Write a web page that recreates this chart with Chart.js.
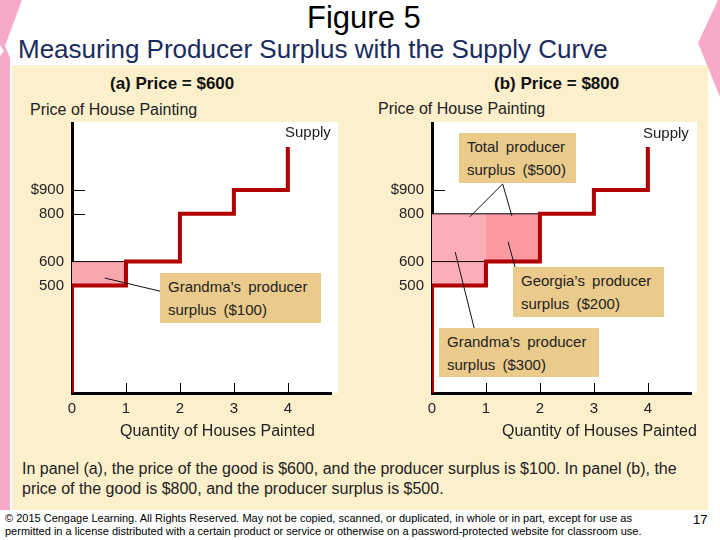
<!DOCTYPE html>
<html><head><meta charset="utf-8">
<script src="https://cdn.jsdelivr.net/npm/chart.js@4.4.1/dist/chart.umd.min.js"></script>
<style>
html,body{margin:0;padding:0;background:#fff;}
body{width:720px;height:540px;position:relative;overflow:hidden;font-family:"Liberation Sans",Arial,sans-serif;}
.t{position:absolute;white-space:nowrap;color:#222;}
.box{position:absolute;background:#EBCB8C;color:#222;font-size:15px;line-height:23px;padding:2px 0 0 8px;box-sizing:border-box;word-spacing:3px;white-space:nowrap;}
canvas{position:absolute;}
</style></head><body>
<div style="position:absolute;left:0;top:0;width:22px;height:510px;background:#F9A9C8;clip-path:polygon(0 0,22px 0,5px 46px,10px 58px,10px 510px,0 510px,0 56px,4px 51px,0 45px)"></div>
<div style="position:absolute;left:698px;top:0;width:22px;height:97px;background:#F9A9C8;clip-path:polygon(20px 0,22px 0,22px 97px,0 43px)"></div>
<div style="position:absolute;left:12px;top:65px;width:696px;height:445px;background:#FCEFCB"></div>

<div class="t" style="left:307px;top:0;font-size:31px;line-height:36px;color:#000">Figure 5</div>
<div class="t" style="left:18px;top:34px;font-size:26px;line-height:30px;color:#1A2B5C">Measuring Producer Surplus with the Supply Curve</div>

<div class="t" style="left:110px;top:74px;font-size:17px;line-height:20px;font-weight:bold;color:#111">(a) Price = $600</div>
<div class="t" style="left:494px;top:74px;font-size:17px;line-height:20px;font-weight:bold;color:#111">(b) Price = $800</div>
<div class="t" style="left:30px;top:100px;font-size:16px;line-height:20px">Price of House Painting</div>
<div class="t" style="left:378px;top:99px;font-size:16px;line-height:20px">Price of House Painting</div>

<canvas id="ca" width="340" height="330" style="left:12px;top:103px"></canvas>
<canvas id="cb" width="340" height="330" style="left:372px;top:103px"></canvas>

<div class="t" style="left:285px;top:122px;font-size:15px;line-height:20px">Supply</div>
<div class="t" style="left:643px;top:123px;font-size:15px;line-height:20px">Supply</div>

<div class="box" style="left:160px;top:273px;width:161px;height:50px">Grandma’s producer<br>surplus ($100)</div>
<div class="box" style="left:459px;top:133px;width:117px;height:50px">Total producer<br>surplus ($500)</div>
<div class="box" style="left:513px;top:267px;width:151px;height:50px">Georgia’s producer<br>surplus ($200)</div>
<div class="box" style="left:439px;top:328px;width:160px;height:49px">Grandma’s producer<br>surplus ($300)</div>

<div class="t" style="left:120px;top:421px;font-size:16px;line-height:20px">Quantity of Houses Painted</div>
<div class="t" style="left:502px;top:421px;font-size:16px;line-height:20px">Quantity of Houses Painted</div>

<div class="t" style="left:22px;top:459px;font-size:16px;line-height:20px">In panel (a), the price of the good is $600, and the producer surplus is $100. In panel (b), the</div>
<div class="t" style="left:22px;top:479px;font-size:16px;line-height:20px">price of the good is $800, and the producer surplus is $500.</div>

<div class="t" style="left:5px;top:512px;font-size:11px;line-height:13px;color:#000">© 2015 Cengage Learning. All Rights Reserved. May not be copied, scanned, or duplicated, in whole or in part, except for use as</div>
<div class="t" style="left:5px;top:525px;font-size:11px;line-height:13px;color:#000">permitted in a license distributed with a certain product or service or otherwise on a password-protected website for classroom use.</div>
<div class="t" style="left:693px;top:512px;font-size:13px;line-height:16px;color:#000">17</div>

<script>
// ---- data ----
const quantityTicks = [0, 1, 2, 3, 4];
const priceTicks = [500, 600, 800, 900];
const priceTickLabels = ['500', '600', '800', '$900'];
// cost of each seller, in order of the quantity supplied (Grandma, Georgia, Frida, Mary)
const sellerCost = [500, 600, 800, 900];
const supplyFloor = 50;   // curve starts on the horizontal axis
const supplyTop = 1080;   // top end of the last vertical segment
const priceA = 600;
const priceB = 800;
const grandmaQty = [0, 1];
const georgiaQty = [1, 2];

const font = {family: '"Liberation Sans", Arial, sans-serif', size: 15};

function supplyPoints() {
  const p = [{x: 0, y: supplyFloor}];
  sellerCost.forEach((c, i) => { p.push({x: i, y: c}); p.push({x: i + 1, y: c}); });
  p.push({x: sellerCost.length, y: supplyTop});
  return p;
}

const decor = {
  id: 'decor',
  beforeDraw(chart, args, opts) {
    const {ctx, chartArea: a} = chart;
    ctx.save();
    ctx.fillStyle = '#fff';
    ctx.fillRect(a.left, a.top - 1, a.right - a.left + opts.whiteExtra, a.bottom - a.top + 1);
    ctx.restore();
  },
  beforeDatasetsDraw(chart) {
    const {ctx, scales: {x, y}} = chart;
    ctx.save();
    ctx.strokeStyle = '#000';
    ctx.lineWidth = 1;
    y.ticks.forEach(t => {
      const py = Math.round(y.getPixelForValue(t.value)) + 0.5;
      ctx.beginPath(); ctx.moveTo(x.left, py); ctx.lineTo(x.left + 13, py); ctx.stroke();
    });
    x.ticks.forEach(t => {
      if (t.value === 0) return;
      const px = Math.round(x.getPixelForValue(t.value)) + 0.5;
      ctx.beginPath(); ctx.moveTo(px, y.bottom); ctx.lineTo(px, y.bottom - 10); ctx.stroke();
    });
    ctx.restore();
  },
  afterDatasetsDraw(chart, args, opts) {
    const {ctx, scales: {x, y}} = chart;
    ctx.save();
    ctx.strokeStyle = '#111';
    ctx.lineWidth = 1;
    (opts.leaders || []).forEach(([p, q]) => {
      ctx.beginPath();
      ctx.moveTo(x.getPixelForValue(p[0]), y.getPixelForValue(p[1]));
      ctx.lineTo(x.getPixelForValue(q[0]), y.getPixelForValue(q[1]));
      ctx.stroke();
    });
    ctx.restore();
  }
};

function pts(xs, ys) { return xs.map((q, i) => ({x: q, y: Array.isArray(ys) ? ys[i] : ys})); }

const supplyDataset = () => ({
  data: supplyPoints(), borderColor: '#B00000', borderWidth: 4,
  borderJoinStyle: 'miter', borderCapStyle: 'butt', pointRadius: 0, fill: false, tension: 0
});

function makeChart(id, datasets, leaders, whiteExtra) {
  return new Chart(document.getElementById(id), {
    type: 'line',
    data: {datasets},
    options: {
      responsive: false, animation: false, events: [],
      layout: {padding: {left: 0, right: 21, top: 20, bottom: 20}},
      plugins: {legend: {display: false}, tooltip: {enabled: false}, decor: {leaders, whiteExtra}},
      scales: {
        x: {
          type: 'linear', min: 0, max: 4.8,
          afterBuildTicks: s => { s.ticks = quantityTicks.map(v => ({value: v})); },
          afterFit: s => { s.height = 20; },
          grid: {display: false, drawTicks: false}, border: {display: true, color: '#000', width: 3},
          ticks: {color: '#222', font, padding: 7, maxRotation: 0, autoSkip: false, callback: v => String(v)}
        },
        y: {
          type: 'linear', min: 50, max: 1180,
          afterBuildTicks: s => { s.ticks = priceTicks.map(v => ({value: v})); },
          afterFit: s => { s.width = 60; },
          grid: {display: false, drawTicks: false}, border: {display: true, color: '#000', width: 3},
          ticks: {color: '#222', font, padding: 8, autoSkip: false, callback: (v, i) => priceTickLabels[i]}
        }
      }
    },
    plugins: [decor]
  });
}

makeChart('ca', [
  supplyDataset(),
  {data: pts(grandmaQty, priceA), borderColor: '#000', borderWidth: 1, pointRadius: 0,
   fill: {value: sellerCost[0]}, backgroundColor: '#F9A6AF'}
], [[[0.61, 531], [1.69, 473]]], 7);

makeChart('cb', [
  supplyDataset(),
  {data: pts([0, 2], priceB), borderColor: '#000', borderWidth: 1, pointRadius: 0, fill: false},
  {data: pts(grandmaQty, sellerCost[1]), borderColor: '#000', borderWidth: 1, pointRadius: 0, fill: false},
  {data: pts(grandmaQty, priceB), borderWidth: 0, pointRadius: 0, fill: {value: sellerCost[0]}, backgroundColor: '#FCAEB6'},
  {data: pts(georgiaQty, priceB), borderWidth: 0, pointRadius: 0, fill: {value: sellerCost[1]}, backgroundColor: '#FA99A2'}
], [[[1.31, 925], [0.70, 787]], [[1.31, 925], [1.48, 791]], [[1.41, 682], [1.57, 552]], [[0.43, 640], [0.80, 305]]], 6);
</script>
</body></html>
